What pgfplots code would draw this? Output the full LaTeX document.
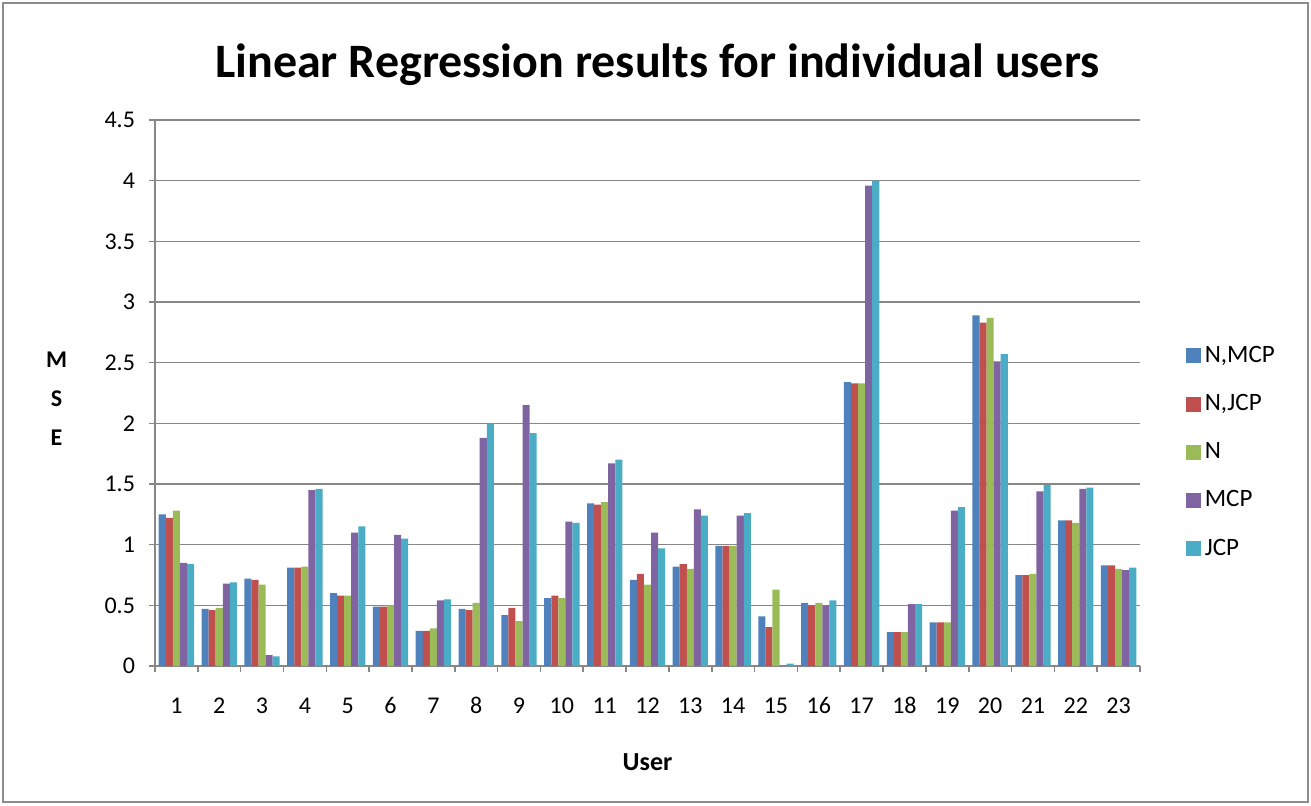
\documentclass[border=0pt]{standalone}
\usepackage{fontspec}
\setmainfont{Carlito}
\usepackage{pgfplots}
\usepackage{pgfplotstable}
\pgfplotsset{compat=1.18}
\definecolor{c1}{HTML}{4F81BD}
\definecolor{c2}{HTML}{C0504D}
\definecolor{c3}{HTML}{9BBB59}
\definecolor{c4}{HTML}{8064A2}
\definecolor{c5}{HTML}{4BACC6}
\definecolor{gridgray}{HTML}{878787}
\definecolor{bordergray}{HTML}{8C8C8C}
\pgfplotstableread{
u a b c d e
1 1.25 1.22 1.28 0.85 0.84
2 0.47 0.46 0.48 0.68 0.69
3 0.72 0.71 0.67 0.09 0.08
4 0.81 0.81 0.82 1.45 1.46
5 0.60 0.58 0.58 1.10 1.15
6 0.49 0.49 0.50 1.08 1.05
7 0.29 0.29 0.31 0.54 0.55
8 0.47 0.46 0.52 1.88 2.00
9 0.42 0.48 0.37 2.15 1.92
10 0.56 0.58 0.56 1.19 1.18
11 1.34 1.33 1.35 1.67 1.70
12 0.71 0.76 0.67 1.10 0.97
13 0.82 0.84 0.80 1.29 1.24
14 0.99 0.99 0.99 1.24 1.26
15 0.41 0.32 0.63 0.00 0.02
16 0.52 0.50 0.52 0.50 0.54
17 2.34 2.33 2.33 3.96 4.00
18 0.28 0.28 0.28 0.51 0.51
19 0.36 0.36 0.36 1.28 1.31
20 2.89 2.83 2.87 2.51 2.57
21 0.75 0.75 0.76 1.44 1.49
22 1.20 1.20 1.18 1.46 1.47
23 0.83 0.83 0.80 0.79 0.81
}\datatable
\pgfplotsset{sqlegend/.style={legend image code/.code={\fill[##1] (0pt,-3.75pt) rectangle (7.5pt,3.75pt);}}}
\begin{document}
\begin{tikzpicture}
\path (-77.5pt,-69.5pt) rectangle (578pt,333pt);
\draw[bordergray, line width=1pt] (-76pt,-68pt) rectangle (576.5pt,331.5pt);
\begin{axis}[
  at={(0pt,0pt)}, anchor=south west,
  scale only axis, width=492.5pt, height=273pt,
  ybar=0pt, bar width=0.165,
  xmin=0.5, xmax=23.5, ymin=0, ymax=4.5,
  ytick={0,0.5,...,4.5},
  xtick={1,...,23},
  minor xtick={0.5,1.5,...,23.5},
  major x tick style={draw=none},
  tick align=outside,
  major tick length=3pt, minor tick length=3pt,
  tick style={gridgray, line width=0.8pt},
  axis lines*=left,
  axis line style={gridgray, line width=0.8pt},
  ymajorgrids=true,
  major grid style={gridgray, line width=0.8pt},
  /pgf/number format/assume math mode=true,
  ticklabel style={font=\fontsize{12}{14}\selectfont},
  xticklabel style={anchor=base, yshift=-20.5pt},
  yticklabel style={xshift=-3.5pt},
  title={Linear Regression results for individual users},
  title style={font=\bfseries\fontsize{24}{28}\selectfont, at={(axis description cs:0.51,1.08)}, anchor=center},
  xlabel={User},
  xlabel style={font=\bfseries\fontsize{13}{15}\selectfont, at={(axis description cs:0.5,-0.176)}, anchor=center},
  ylabel={M\\[3.5pt]S\\[3.5pt]E},
  ylabel style={font=\bfseries\fontsize{12}{16}\selectfont, rotate=-90, align=center, at={(axis description cs:-0.1,0.49)}, anchor=center},
  legend style={draw=none, fill=none, at={(1.04,0.601)}, anchor=north west,
    font=\fontsize{12.5}{14}\selectfont, row sep=10.5pt, legend cell align=left},
]
\addplot[sqlegend, fill=c1, draw=none] table[x=u, y=a] {\datatable};
\addplot[sqlegend, fill=c2, draw=none] table[x=u, y=b] {\datatable};
\addplot[sqlegend, fill=c3, draw=none] table[x=u, y=c] {\datatable};
\addplot[sqlegend, fill=c4, draw=none] table[x=u, y=d] {\datatable};
\addplot[sqlegend, fill=c5, draw=none] table[x=u, y=e] {\datatable};
\legend{{N,MCP}, {N,JCP}, N, MCP, JCP}
\end{axis}
\end{tikzpicture}
\end{document}
